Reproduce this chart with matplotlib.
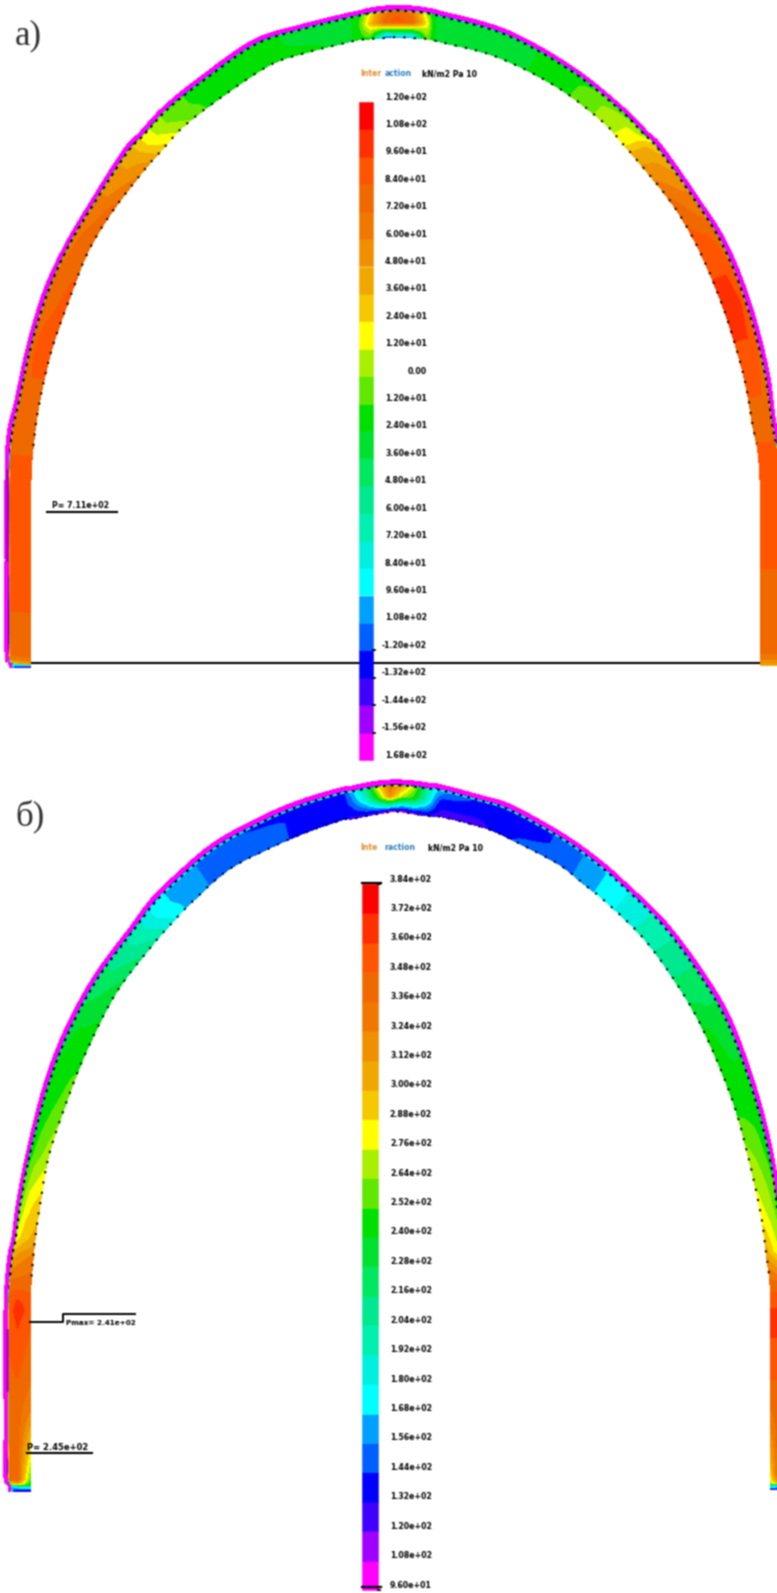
import matplotlib
matplotlib.use('Agg')
import matplotlib.pyplot as plt
import numpy as np

# colour bands of the legend, bottom to top
band_colors = ['#ff00ff', '#a000ff', '#4000ff', '#0000ff', '#0060ff', '#00a0ff',
               '#00ffff', '#00f0e0', '#00f0b0', '#00e890', '#00e860', '#00e030',
               '#00e000', '#60e800', '#a8f000', '#ffff00', '#f5c800', '#f0a800',
               '#f09000', '#f07800', '#f06800', '#ff5500', '#ff3000', '#ff0000']

# panel a: arch stations, left foot -> crown -> right foot
a_outer_x = [10, 8, 5, 5, 5, 7, 15, 27, 43, 63, 87, 123, 140, 163, 200, 253, 300, 340, 358, 370, 385, 397, 412, 427, 440,
             507, 573, 623, 648, 663, 700, 727, 750, 768, 775, 783, 783, 783, 783]
a_outer_y = [668, 662, 652, 560, 480, 435, 400, 345, 292, 248, 207, 150, 132, 107, 77, 40, 25, 15, 11, 8, 6, 5, 6, 8, 11,
             30, 67, 107, 132, 147, 200, 243, 300, 367, 417, 480, 650, 660, 666]
a_inner_x = [31, 31, 31, 31, 31, 34, 39, 51, 69, 88, 112, 145, 162, 183, 216, 268, 305, 345, 358, 370, 385, 397, 412, 427, 440,
             497, 557, 603, 622, 636, 673, 700, 724, 743, 752, 760, 760, 760, 760]
a_inner_y = [668, 662, 656, 560, 480, 440, 405, 352, 300, 252, 212, 169, 150, 127, 101, 66, 53, 43, 40, 39, 38, 37, 38, 39, 42,
             57, 87, 122, 143, 159, 205, 252, 310, 373, 422, 480, 650, 660, 666]
a_in = [0, 10, 20, 21, 21, 20, 20, 21, 21, 20, 20, 18, 16, 14, 12, 12, 12, 11, 12, 12, 3, 5, 4, 13, 11,
        11, 12, 14, 15, 17, 20, 21, 22, 21, 20, 21, 20, 10, 3]
a_mid = [0, 10, 20, 21, 21, 20, 20, 21, 20, 20, 19, 17, 15, 13, 12, 12, 11, 11, 12, 16, 20, 21, 20, 15, 11,
         11, 12, 14, 15, 17, 19, 21, 22, 21, 20, 21, 20, 10, 3]
a_out = [0, 10, 20, 21, 21, 20, 20, 20, 20, 19, 19, 17, 15, 13, 12, 12, 11, 11, 12, 15, 19, 20, 19, 14, 11,
         11, 12, 13, 14, 16, 19, 20, 21, 20, 20, 21, 20, 10, 3]

# panel b
b_outer_x = [8, 8, 4, 4, 4, 4, 5, 8, 12, 17, 27, 43, 63, 93, 130, 150, 173, 213, 260, 300, 340, 352, 366, 378, 390, 402, 414, 428, 442,
             483, 507, 540, 573, 600, 623, 667, 707, 733, 757, 773, 781, 785, 787, 787, 787, 787, 787, 787]
b_outer_y = [1492, 1486, 1478, 1440, 1400, 1310, 1285, 1255, 1237, 1200, 1150, 1087, 1033, 977, 927, 900, 877, 843, 817, 800, 788, 786, 783, 781, 780, 780, 781, 783, 785,
             796, 803, 820, 840, 860, 880, 923, 977, 1023, 1090, 1153, 1210, 1250, 1285, 1320, 1400, 1475, 1483, 1490]
b_inner_x = [31, 31, 31, 31, 31, 31, 31, 33, 35, 40, 49, 68, 87, 116, 150, 170, 192, 228, 270, 307, 342, 352, 366, 378, 390, 402, 414, 428, 442,
             478, 498, 528, 560, 585, 606, 645, 682, 707, 733, 749, 761, 766, 770, 770, 770, 770, 770, 770]
b_inner_y = [1492, 1486, 1480, 1440, 1400, 1310, 1285, 1260, 1240, 1205, 1155, 1098, 1050, 993, 948, 925, 902, 870, 848, 832, 820, 819, 816, 814, 812, 812, 814, 816, 817,
             826, 833, 848, 865, 885, 902, 940, 992, 1038, 1102, 1160, 1215, 1252, 1285, 1320, 1400, 1475, 1484, 1490]
b_in = [0, 8, 12, 16, 19, 21, 20, 19, 17, 16, 14, 13, 12, 11, 9, 7, 5, 4, 4, 3, 3, 2, 2, 1, 0, 0, 1, 2, 2,
        2, 3, 4, 4, 5, 6, 8, 10, 12, 12, 14, 15, 17, 20, 22, 20, 15, 10, 0]
b_mid = [0, 8, 20, 20, 20, 22, 20, 18, 16, 15, 13, 12, 12, 10, 8, 6, 5, 4, 4, 3, 3, 4, 7, 12, 18, 14, 12, 7, 3,
         3, 3, 3, 4, 5, 6, 8, 10, 11, 12, 13, 14, 15, 20, 22, 20, 20, 10, 0]
b_out = [0, 6, 20, 20, 20, 21, 20, 17, 15, 13, 12, 12, 11, 10, 8, 6, 5, 4, 3, 3, 3, 5, 9, 15, 19, 17, 14, 8, 5,
         3, 3, 3, 4, 5, 6, 8, 10, 11, 12, 12, 13, 14, 20, 22, 20, 20, 10, 0]

# legend labels, top to bottom (barely legible in the source, estimated)
a_labels = ['1.20e+02', '1.08e+02', '9.60e+01', '8.40e+01', '7.20e+01', '6.00e+01', '4.80e+01', '3.60e+01', '2.40e+01',
            '1.20e+01', '0.00', '1.20e+01', '2.40e+01', '3.60e+01', '4.80e+01', '6.00e+01', '7.20e+01', '8.40e+01',
            '9.60e+01', '1.08e+02', '-1.20e+02', '-1.32e+02', '-1.44e+02', '-1.56e+02', '1.68e+02']
b_labels = ['3.84e+02', '3.72e+02', '3.60e+02', '3.48e+02', '3.36e+02', '3.24e+02', '3.12e+02', '3.00e+02', '2.88e+02',
            '2.76e+02', '2.64e+02', '2.52e+02', '2.40e+02', '2.28e+02', '2.16e+02', '2.04e+02', '1.92e+02', '1.80e+02',
            '1.68e+02', '1.56e+02', '1.44e+02', '1.32e+02', '1.20e+02', '1.08e+02', '9.60e+01']

# through-thickness positions: inner edge, mid, body end, thin cyan line, rim start, outer edge
layer_t = np.array([0.0, 0.5, 0.80, 0.83, 0.85, 1.0])
thin_band = 6
rim_band = 0


# rounds off the stations so the arch does not look like a polygon (Catmull-Rom)
def smooth_curve(p, sub=6):
    p = np.array(p, dtype=float)
    q = np.r_[p[0], p, p[-1]]
    out = []
    for i in range(1, len(q) - 2):
        for u in np.arange(sub) / sub:
            out.append(0.5 * (2 * q[i] + (q[i + 1] - q[i - 1]) * u
                              + (2 * q[i - 1] - 5 * q[i] + 4 * q[i + 1] - q[i + 2]) * u ** 2
                              + (3 * q[i] - q[i - 1] - 3 * q[i + 1] + q[i + 2]) * u ** 3))
    out.append(p[-1])
    return np.array(out)


def draw_arch(ax, ox, oy, ix, iy, v_in, v_mid, v_out, dots_to):
    n = len(ox)
    ox, oy, ix, iy = smooth_curve(ox), smooth_curve(oy), smooth_curve(ix), smooth_curve(iy)
    pos = np.linspace(0, n - 1, len(ox))
    st = np.arange(n)
    t = layer_t[:, None]
    X = ix + (ox - ix) * t
    Y = iy + (oy - iy) * t
    thin = np.full(len(ox), thin_band)
    rim = np.full(len(ox), rim_band)
    Z = np.array([np.interp(pos, st, v_in), np.interp(pos, st, v_mid), np.interp(pos, st, v_out),
                  thin, rim, rim], dtype=float) + 0.5
    ax.contourf(X, Y, Z, levels=np.arange(25), colors=band_colors, zorder=2)

    # mesh edges show up as black dots
    up = iy < dots_to
    ax.plot(ix[up], iy[up], color='k', lw=1.5, ls=(0, (1, 4)), zorder=3)
    ax.plot(X[3][up], Y[3][up], color='k', lw=1.4, ls=(0, (1.5, 2.5)), zorder=3)


def draw_legend(ax, x0, x1, top, bottom, labels, right, ticks):
    h = (bottom - top) / len(band_colors)
    for i, c in enumerate(band_colors):
        ax.bar((x0 + x1) / 2, h, width=x1 - x0, bottom=bottom - (i + 1) * h, color=c, edgecolor=c, lw=0.4, zorder=4)
    for i, lab in enumerate(labels):
        y = top + i * h
        ax.text(right, y - 5, lab, fontsize=5.6, fontweight='bold', ha='right', va='center', color='k', zorder=5)
    for i in ticks:
        ax.plot([x1, x1 + 1.5], [top + i * h] * 2, color='k', lw=1.3, zorder=5)


fig = plt.figure(figsize=(7.77, 15.93), dpi=100)
ax = fig.add_axes([0, 0, 1, 1])
ax.set_xlim(0, 777)
ax.set_ylim(1593, 0)
ax.axis('off')

# base line of panel a
ax.plot([10, 777], [663, 663], color='k', lw=1.5, zorder=1)

draw_arch(ax, a_outer_x, a_outer_y, a_inner_x, a_inner_y, a_in, a_mid, a_out, 450)
draw_arch(ax, b_outer_x, b_outer_y, b_inner_x, b_inner_y, b_in, b_mid, b_out, 1280)

# darker patches inside the rim of the legs
ax.plot([7, 7], [470, 560], color='#a000c8', lw=1.8, zorder=3)
ax.plot([7, 7], [1330, 1390], color='#a000c8', lw=1.8, zorder=3)

draw_legend(ax, 359, 373, 102, 760, a_labels, 427, [20, 21, 22, 23])
draw_legend(ax, 362, 378, 884, 1590, b_labels, 432, [0, 24])
ax.plot([362, 381], [883, 883], color='k', lw=1.6, zorder=5)
ax.plot([362, 381], [1587, 1587], color='k', lw=1.6, zorder=5)

# legend titles
for x, y, s, c in [(360, 74, 'Inter', '#e09030'), (385, 74, 'action', '#3080c0'), (422, 74, 'kN/m2 Pa 10', 'k'),
                   (360, 848, 'Inte', '#e09030'), (384, 848, 'raction', '#3080c0'), (428, 848, 'kN/m2 Pa 10', 'k')]:
    ax.text(x, y, s, fontsize=5.6, fontweight='bold', color=c, ha='left', va='center', zorder=5)

# panel letters
ax.text(15, 44, 'а)', family='Liberation Serif', fontsize=25, color='#333333')
ax.text(15, 825, 'б)', family='Liberation Serif', fontsize=25, color='#333333')

# callouts
ax.text(52, 505, 'P= 7.11e+02', fontsize=5.6, fontweight='bold', va='center')
ax.plot([47, 117], [511.5, 511.5], color='k', lw=1.5)
ax.plot([30, 63, 63, 135], [1322, 1322, 1314, 1314], color='k', lw=1.4)
ax.text(66, 1323, 'Pmax= 2.41e+02', fontsize=5.2, fontweight='bold', va='center')
ax.text(27, 1447, 'P= 2.45e+02', fontsize=6, fontweight='bold', va='center', zorder=5)
ax.plot([27, 92], [1453, 1453], color='k', lw=1.5, zorder=5)

# the source is a soft low-res scan, so blur the render slightly before saving
fig.canvas.draw()
img = np.asarray(fig.canvas.buffer_rgba())[:, :, :3] / 255.0
img = np.pad(img, ((1, 1), (1, 1), (0, 0)), mode='edge')
for axis in (0, 1):
    img = (np.roll(img, 1, axis) + 2 * img + np.roll(img, -1, axis)) / 4
plt.imsave('out.png', img[1:-1, 1:-1])
